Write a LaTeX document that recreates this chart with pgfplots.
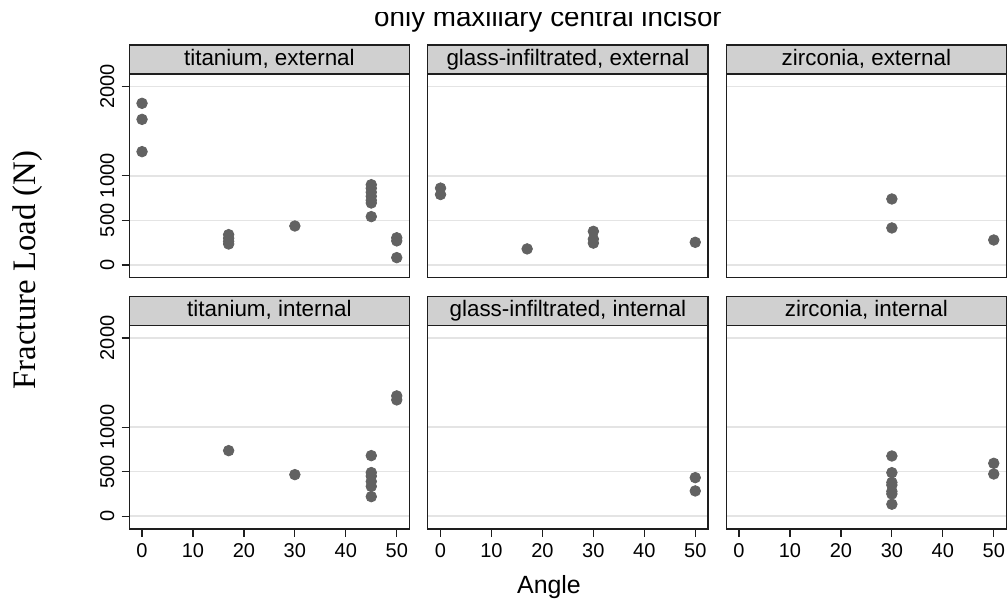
\documentclass[border=0pt]{standalone}
\usepackage{fontspec}
\setmainfont{Liberation Sans}
\newfontfamily\seriffont{Liberation Serif}
\usepackage{pgfplots}
\pgfplotsset{compat=1.18}
\definecolor{dotgray}{RGB}{98,98,98}
\definecolor{stripgray}{RGB}{208,208,208}
\definecolor{gridgray}{RGB}{228,228,228}
\definecolor{framec}{RGB}{30,30,30}
\pgfplotsset{
  dots/.style={only marks, mark=*, mark size=2.65pt, color=dotgray,
      mark options={draw=none, fill=dotgray}},
  panel/.style={
    scale only axis, width=140.1pt, height=101.9pt, anchor=south west,
    xmin=-2.5, xmax=52.5, ymin=-143, ymax=2143,
    xtick={0,10,20,30,40,50}, ytick={0,500,1000,2000},
    ymajorgrids, major grid style={draw=gridgray, line width=0.8pt},
    axis line style={draw=framec, line width=0.65pt},
    tick style={draw=framec, line width=0.6pt},
    tick align=outside, major tick length=3.8pt,
    xtick pos=lower, ytick pos=left,
    /pgf/number format/assume math mode=true,
    /pgf/number format/1000 sep={},
    tick label style={font=\fontsize{10}{12}\selectfont},
    yticklabel style={rotate=90, anchor=south, inner sep=3.5pt},
    xticklabel style={inner sep=3.5pt},
    clip=false,
  },
  noyt/.style={yticklabels={}, ytick style={draw=none}},
  noxt/.style={xticklabels={}, xtick style={draw=none}},
}
\newcommand{\strip}[1]{%
  \draw[draw=framec, line width=0.65pt, fill=stripgray] (rel axis cs:0,1) rectangle ([yshift=14.5pt]rel axis cs:1,1);
  \node[anchor=base, font=\fontsize{11.2}{13}\selectfont, inner sep=0pt] at ([yshift=4.2pt]rel axis cs:0.5,1) {#1};
}
\begin{document}
\begin{tikzpicture}
\useasboundingbox (0,0) rectangle (503.5pt,-302.5pt);
% top row
\begin{axis}[panel, noxt, at={(64.65pt,-138.85pt)}]
\addplot[dots] coordinates {(0,1813) (0,1633) (0,1271) (17,340) (17,300) (17,265) (17,235) (30,437)
 (45,900) (45,860) (45,815) (45,770) (45,725) (45,695) (45,542) (50,305) (50,270) (50,82)};
\strip{titanium, external}
\end{axis}
\begin{axis}[panel, noxt, noyt, at={(213.9pt,-138.85pt)}]
\addplot[dots] coordinates {(0,862) (0,790) (17,180) (30,377) (30,290) (30,245) (50,254)};
\strip{glass-infiltrated, external}
\end{axis}
\begin{axis}[panel, noxt, noyt, at={(363.15pt,-138.85pt)}]
\addplot[dots] coordinates {(30,740) (30,415) (50,280)};
\strip{zirconia, external}
\end{axis}
% bottom row
\begin{axis}[panel, at={(64.65pt,-264.5pt)}]
\addplot[dots] coordinates {(17,736) (30,467) (45,680) (45,490) (45,450) (45,390) (45,335) (45,220) (50,1350) (50,1305)};
\strip{titanium, internal}
\end{axis}
\begin{axis}[panel, noyt, at={(213.9pt,-264.5pt)}]
\addplot[dots] coordinates {(50,433) (50,284)};
\strip{glass-infiltrated, internal}
\end{axis}
\begin{axis}[panel, noyt, at={(363.15pt,-264.5pt)}]
\addplot[dots] coordinates {(30,676) (30,489) (30,380) (30,350) (30,280) (30,250) (30,135) (50,594) (50,474)};
\strip{zirconia, internal}
\end{axis}
% labels
\begin{scope}
\clip (0,-6pt) rectangle (503.5pt,-22pt);
\node[anchor=base, font=\fontsize{13.9}{16}\selectfont, inner sep=0pt] at (274pt,-13pt) {only maxillary central incisor};
\end{scope}
\node[anchor=base, font=\fontsize{12.45}{15}\selectfont, inner sep=0pt] at (274.5pt,-296.5pt) {Angle};
\node[anchor=base, rotate=90, font=\seriffont\fontsize{16.4}{19}\selectfont, inner sep=0pt] at (17.5pt,-135pt) {Fracture Load (N)};
\end{tikzpicture}
\end{document}
